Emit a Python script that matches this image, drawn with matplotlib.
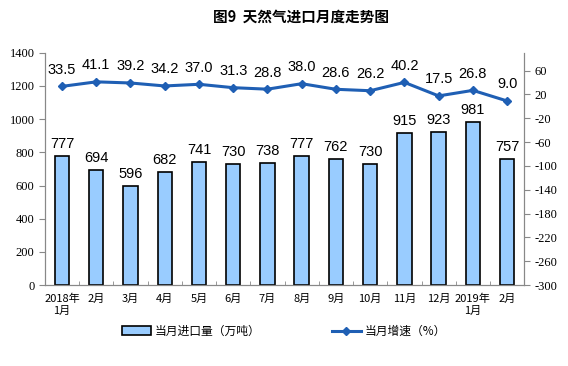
import matplotlib.pyplot as plt
import numpy as np

months = ['2018年\n1月', '2月', '3月', '4月', '5月', '6月', '7月', '8月',
          '9月', '10月', '11月', '12月', '2019年\n1月', '2月']
imports = [777, 694, 596, 682, 741, 730, 738, 777, 762, 730, 915, 923, 981, 757]
growth = [33.5, 41.1, 39.2, 34.2, 37.0, 31.3, 28.8, 38.0, 28.6, 26.2, 40.2, 17.5, 26.8, 9.0]

plt.rcParams['axes.unicode_minus'] = False
cjk = ['Noto Sans CJK SC', 'DejaVu Sans']
num_font = 'Liberation Serif'
lab_font = 'Liberation Sans'
line_color = '#1f5fb4'
bar_color = '#99ccff'

fig = plt.figure(figsize=(5.68, 3.66), dpi=100)
ax = fig.add_axes([0.079, 0.221, 0.844, 0.635])
ax2 = ax.twinx()

x = np.arange(len(months))
bars = ax.bar(x, imports, width=0.42, color=bar_color, edgecolor='black', linewidth=1.2,
              label='当月进口量（万吨）', zorder=2)
for xi, v in zip(x, imports):
    ax.text(xi, v + 30, str(v), ha='center', va='bottom', fontsize=10.5, family=lab_font)

ax.set_xlim(-0.5, len(months) - 0.5)
ax.set_ylim(0, 1400)
ax.set_yticks(range(0, 1401, 200))
ax.set_xticks(x)
ax.set_xticklabels(months, family=cjk, fontsize=8)
ax.set_xticks(np.arange(-0.5, len(months), 1), minor=True)
ax.tick_params(axis='x', which='major', length=0, pad=6)
ax.tick_params(axis='x', which='minor', length=3, direction='in', color='#888888')
ax.tick_params(axis='y', length=4, direction='out', color='#888888', labelsize=9)
for t in ax.get_yticklabels():
    t.set_family(num_font)

ax2.plot(x, growth, color=line_color, marker='D', markersize=4.5, linewidth=2.2,
         label='当月增速（%）', zorder=3)
for xi, v in zip(x, growth):
    ax2.text(xi, v + 16, f'{v:.1f}', ha='center', va='bottom', fontsize=10.5, family=lab_font)
ax2.set_ylim(-300, 90)
ax2.set_yticks(range(-300, 61, 40))
ax2.tick_params(axis='y', length=4, direction='out', color='#888888', labelsize=9)
for t in ax2.get_yticklabels():
    t.set_family(num_font)

for a in (ax, ax2):
    a.spines['top'].set_visible(False)
    for s in ('left', 'right', 'bottom'):
        a.spines[s].set_color('#888888')

fig.text(0.53, 0.955, '图9  天然气进口月度走势图', ha='center', va='center',
         fontsize=10.5, family=cjk, fontweight='bold')

h1, l1 = ax.get_legend_handles_labels()
h2, l2 = ax2.get_legend_handles_labels()
fig.legend(h1 + h2, l1 + l2, loc='center', bbox_to_anchor=(0.5, 0.095), ncol=2,
           frameon=False, prop={'family': cjk, 'size': 8.5}, columnspacing=6,
           handlelength=2.5, handletextpad=0.3)

fig.savefig('out.png', dpi=100)
